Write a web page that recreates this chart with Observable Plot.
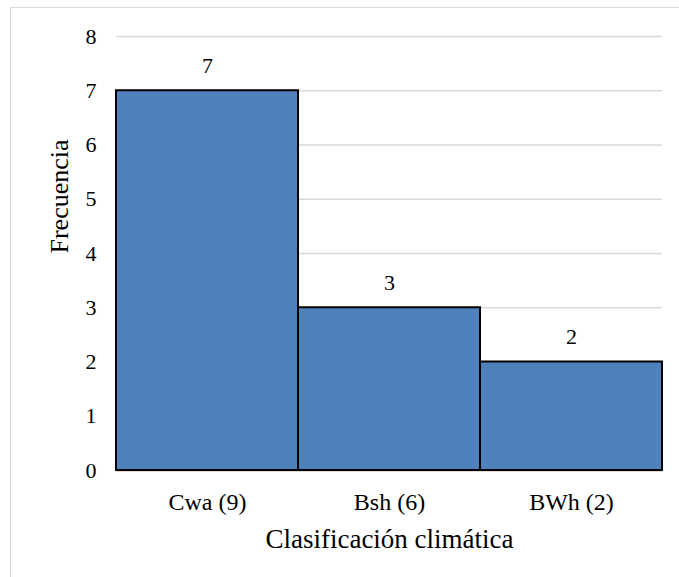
<!DOCTYPE html>
<html><head><meta charset="utf-8">
<script src="https://cdn.jsdelivr.net/npm/d3@7"></script>
<script src="https://cdn.jsdelivr.net/npm/@observablehq/plot@0.6"></script>
<style>
html,body{margin:0;padding:0;background:#fff;}
#wrap{position:relative;width:679px;height:577px;overflow:hidden;}
#frame{position:absolute;left:10px;top:7px;width:700px;height:600px;border:1.5px solid #d9d9d9;box-sizing:border-box;}
#chart{position:absolute;left:0;top:0;}
</style></head>
<body><div id="wrap"><div id="frame"></div><div id="chart"></div></div>
<script>
const categories = ["Cwa (9)", "Bsh (6)", "BWh (2)"];
const values = [7, 3, 2];
const yTicks = [0, 1, 2, 3, 4, 5, 6, 7, 8];

const data = categories.map((c, i) => ({cat: c, val: values[i]}));
const serif = "Liberation Serif";

const chart = Plot.plot({
  width: 679, height: 577,
  marginLeft: 116, marginRight: 17, marginTop: 36, marginBottom: 107,
  style: {background: "transparent", color: "#000", fontFamily: serif},
  x: {domain: categories, padding: 0, label: null},
  y: {domain: [0, 8], ticks: yTicks, label: null},
  marks: [
    Plot.gridY(yTicks, {stroke: "#d9d9d9", strokeOpacity: 1, strokeWidth: 1.5}),
    Plot.axisX({tickSize: 0, tickPadding: 22, fontSize: 24, fontFamily: serif, fontVariant: "normal", label: null}),
    Plot.axisY({ticks: yTicks, tickSize: 0, tickPadding: 20, fontSize: 22, fontFamily: serif, fontVariant: "normal", label: null}),
    Plot.ruleY([0], {stroke: "#bfbfbf", strokeWidth: 2}),
    Plot.barY(data, {x: "cat", y: "val", fill: "#4F81BD", stroke: "#000", strokeWidth: 2}),
    Plot.text(data, {x: "cat", y: "val", text: d => String(d.val), dy: -25, fontSize: 22, fontFamily: serif, fill: "#000"}),
    Plot.text(["Clasificación climática"], {frameAnchor: "bottom", dy: 77, fontSize: 27, fontFamily: serif, fill: "#000"}),
    Plot.text(["Frecuencia"], {frameAnchor: "left", dx: -57, rotate: -90, fontSize: 26, fontFamily: serif, fill: "#000"})
  ]
});
d3.select(chart).selectAll("text, g").style("font-family", serif);
document.getElementById("chart").appendChild(chart);
</script></body></html>
